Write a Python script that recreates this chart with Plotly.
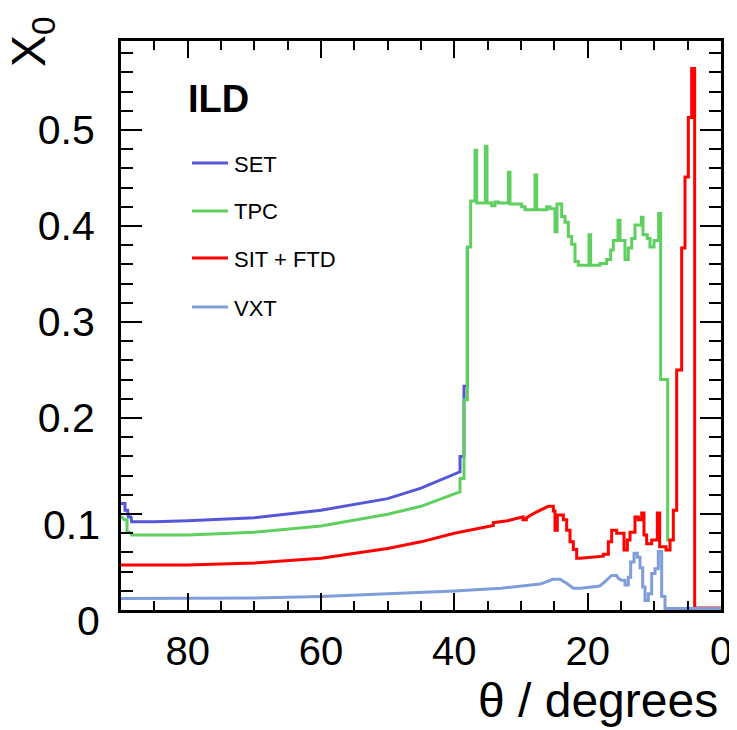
import plotly.graph_objects as go

# ---------------- data (theta in degrees, cumulative X0) ----------------
set_theta = [90, 89.4, 89.4, 89.0, 88.9, 88.5, 88.4, 85, 80, 70, 60, 50, 45, 40,
             39.15, 39.15, 38.55, 38.55, 38.05, 38.05]
set_x0 = [0.111, 0.111, 0.104, 0.104, 0.097, 0.097, 0.092, 0.092, 0.093, 0.096,
          0.104, 0.116, 0.127, 0.141, 0.144, 0.160, 0.160, 0.233, 0.233, 0.378]

tpc_theta = [90, 89.5, 89.1, 89.1, 88.5, 88.4, 85, 80, 70, 60, 50, 45, 40,
             39.15, 39.15, 38.55, 38.55, 38.05, 38.05, 37.55, 37.55,
             36.9, 36.9, 36.65, 36.65, 35.35, 35.35, 35.1, 35.1,
             34.4, 34.4, 33.9, 33.9, 33.4, 33.4, 31.9, 31.9, 31.65, 31.65,
             29.9, 29.9, 29.4, 29.4, 27.9, 27.9, 27.65, 27.65,
             26.15, 26.15, 25.65, 25.65, 24.9, 24.9, 24.6, 24.6,
             23.9, 23.9, 23.4, 23.4, 22.9, 22.9, 22.4, 22.4, 21.9, 21.9,
             21.4, 21.4, 19.8, 19.8, 19.55, 19.55, 18.15, 18.15, 17.15, 17.15,
             16.55, 16.55, 16.15, 16.15, 15.45, 15.45, 15.15, 15.15,
             14.4, 14.4, 13.9, 13.9, 13.4, 13.4, 12.9, 12.9, 11.95, 11.95,
             11.7, 11.7, 11.05, 11.05, 10.65, 10.65, 10.05, 10.05, 9.35, 9.35,
             9.05, 9.05, 8.0, 8.0]
tpc_x0 = [0.098, 0.094, 0.094, 0.082, 0.080, 0.078, 0.078, 0.078, 0.081, 0.0875,
          0.0997, 0.108, 0.121, 0.123, 0.137, 0.137, 0.219, 0.219, 0.378, 0.378, 0.426,
          0.426, 0.479, 0.479, 0.424, 0.424, 0.483, 0.483, 0.424,
          0.424, 0.421, 0.421, 0.425, 0.425, 0.424, 0.424, 0.456, 0.456, 0.423,
          0.423, 0.420, 0.420, 0.417, 0.417, 0.453, 0.453, 0.417,
          0.417, 0.420, 0.420, 0.418, 0.418, 0.394, 0.394, 0.423,
          0.423, 0.410, 0.410, 0.404, 0.404, 0.389, 0.389, 0.381, 0.381, 0.363,
          0.363, 0.359, 0.359, 0.391, 0.391, 0.359, 0.359, 0.361, 0.361, 0.365,
          0.365, 0.375, 0.375, 0.385, 0.385, 0.406, 0.406, 0.385,
          0.385, 0.365, 0.365, 0.377, 0.377, 0.387, 0.387, 0.401, 0.401, 0.409,
          0.409, 0.391, 0.391, 0.387, 0.387, 0.378, 0.378, 0.385, 0.385, 0.413,
          0.413, 0.240, 0.240, 0.071]

sit_theta = [90, 80, 70, 60, 50, 45, 40, 36, 34.15, 34.15, 32, 29.7, 29.7, 29.2, 29.2,
             28, 26.2, 25.9, 25.15, 25.15, 24.9, 24.9, 24.55, 24.55, 23.65, 23.65,
             23.15, 23.15, 22.65, 22.65, 22.15, 22.15, 21.65, 21.65, 21.15, 19.0,
             17.65, 17.65, 16.9, 16.9, 16.4, 16.4, 15.65, 15.65, 14.55, 14.55,
             14.05, 14.05, 13.65, 13.65, 12.9, 12.9, 12.4, 12.4, 11.9, 11.9,
             11.55, 11.55, 11.15, 11.15, 10.4, 10.4, 9.55, 9.55, 9.2, 9.2,
             8.25, 8.25, 7.65, 7.65, 7.15, 7.15, 6.65, 6.65, 5.9, 5.9, 5.4, 5.4,
             4.9, 4.9, 4.4, 4.4, 3.95, 3.95, 0]
sit_x0 = [0.047, 0.047, 0.049, 0.054, 0.064, 0.071, 0.080, 0.086, 0.088, 0.091,
          0.093, 0.097, 0.094, 0.094, 0.096,
          0.101, 0.107, 0.108, 0.108, 0.103, 0.103, 0.083, 0.083, 0.099, 0.099, 0.094,
          0.094, 0.083, 0.083, 0.071, 0.071, 0.063, 0.063, 0.054, 0.054, 0.055,
          0.056, 0.058, 0.058, 0.071, 0.071, 0.083, 0.083, 0.080, 0.080, 0.0625,
          0.0625, 0.073, 0.073, 0.081, 0.081, 0.097, 0.097, 0.094, 0.094, 0.101,
          0.101, 0.078, 0.078, 0.069, 0.069, 0.073, 0.073, 0.101, 0.101, 0.066,
          0.066, 0.0625, 0.0625, 0.073, 0.073, 0.104, 0.104, 0.250, 0.250, 0.377,
          0.377, 0.451, 0.451, 0.513, 0.513, 0.564, 0.564, 0.002, 0.002]

vxt_theta = [90, 80, 70, 60, 50, 40, 33, 30, 27.15, 25.9, 25.2, 24.15, 23.6, 23.0,
             22.6, 22.15, 21.0, 19.0, 18.2, 17.65, 16.9, 16.4, 15.65, 15.4, 14.9,
             14.4, 14.4, 13.9, 13.9, 13.55, 13.55, 13.05, 13.05, 12.55, 12.55,
             12.15, 12.15, 11.75, 11.75, 11.4, 11.4, 10.9, 10.9, 10.4, 10.4,
             9.9, 9.9, 9.4, 9.4, 8.9, 8.9, 8.4, 8.4, 0]
vxt_x0 = [0.012, 0.012, 0.0125, 0.014, 0.0167, 0.0198, 0.0226, 0.025, 0.027, 0.030,
          0.032, 0.032, 0.030, 0.027, 0.025, 0.0226, 0.0226, 0.024, 0.025, 0.028,
          0.033, 0.036, 0.036, 0.033, 0.031,
          0.031, 0.026, 0.026, 0.034, 0.034, 0.050, 0.050, 0.059, 0.059, 0.055,
          0.055, 0.044, 0.044, 0.024, 0.024, 0.010, 0.010, 0.017, 0.017, 0.038,
          0.038, 0.043, 0.043, 0.061, 0.061, 0.014, 0.014, 0.0015, 0.0015]

series_names = ["SET", "TPC", "SIT + FTD", "VXT"]
series_colors = ["#5656d8", "#5fcf5f", "#ff0000", "#7f9dd8"]

x_tickvals = [80, 60, 40, 20, 0]
y_tickvals = [0, 0.1, 0.2, 0.3, 0.4, 0.5]
y_ticktext = ["", "", "0.2", "0.3", "0.4", "0.5"]
y_low_vals = [0, 0.1]          # these two labels sit a little below their ticks
y_low_text = ["0", "0.1"]

# ---------------- figure ----------------
OFF = 8                      # page body margin of the html page
W, H = 737 - OFF, 730 - OFF
L, T = 121 - OFF, 41 - OFF
pw, ph = 600, 569
R, B = W - L - pw, H - T - ph

fig = go.Figure()
data = [(set_theta, set_x0), (tpc_theta, tpc_x0), (sit_theta, sit_x0), (vxt_theta, vxt_x0)]
for (th, v), name, col in zip(data, series_names, series_colors):
    fig.add_trace(go.Scatter(x=th, y=v, mode="lines", name=name,
                             line=dict(color=col, width=3), showlegend=False))

FONT = "Liberation Sans, Arial, sans-serif"
fig.update_layout(
    width=W, height=H, margin=dict(l=L, r=R, t=T, b=B, autoexpand=False),
    paper_bgcolor="white", plot_bgcolor="white",
    font=dict(family=FONT, color="black"),
)
fig.update_xaxes(range=[90, 0], showgrid=False, zeroline=False,
                 showline=True, linecolor="black", linewidth=3, mirror="ticks",
                 ticks="inside", ticklen=17, tickwidth=2, tickcolor="black",
                 tickvals=x_tickvals, tickfont=dict(size=40, family=FONT),
                 ticklabelstandoff=4,
                 minor=dict(dtick=5, ticks="inside", ticklen=9, tickwidth=2,
                            tickcolor="black", showgrid=False))
fig.update_yaxes(range=[0, 0.5927], showgrid=False, zeroline=False,
                 showline=True, linecolor="black", linewidth=3, mirror="ticks",
                 ticks="inside", ticklen=21, tickwidth=2, tickcolor="black",
                 tickvals=y_tickvals, ticktext=y_ticktext,
                 tickfont=dict(size=41, family=FONT), ticklabelstandoff=15,
                 minor=dict(dtick=0.02, ticks="inside", ticklen=12, tickwidth=2,
                            tickcolor="black", showgrid=False))


def px_to_paper_x(px):
    return (px - OFF - L) / pw


def py_to_paper_y(py):
    return 1 - (py - OFF - T) / ph


for v, t in zip(y_low_vals, y_low_text):
    fig.add_annotation(text=t, xref="paper", yref="y", x=px_to_paper_x(102), y=v,
                       yshift=-11, xanchor="right", yanchor="middle",
                       showarrow=False, font=dict(size=41, family=FONT, color="black"))

# axis titles
fig.add_annotation(text="θ / degrees", xref="paper", yref="paper",
                   x=px_to_paper_x(720), y=py_to_paper_y(700), xanchor="right",
                   yanchor="middle", showarrow=False,
                   font=dict(size=48, family=FONT, color="black"))
fig.add_annotation(text="X<sub>0</sub>", xref="paper", yref="paper",
                   x=px_to_paper_x(32), y=py_to_paper_y(42), xanchor="center",
                   yanchor="middle", showarrow=False, textangle=-90,
                   font=dict(size=48, family=FONT, color="black"))

# ILD label
fig.add_annotation(text="<b>ILD</b>", xref="paper", yref="paper",
                   x=px_to_paper_x(186), y=py_to_paper_y(99), xanchor="left",
                   yanchor="middle", showarrow=False,
                   font=dict(size=38, family=FONT, color="black"))

# legend (drawn manually)
leg_y = [163, 211, 258, 307]
for name, col, yy in zip(series_names, series_colors, leg_y):
    fig.add_shape(type="line", xref="paper", yref="paper",
                  x0=px_to_paper_x(192), x1=px_to_paper_x(228),
                  y0=py_to_paper_y(yy), y1=py_to_paper_y(yy),
                  line=dict(color=col, width=3))
    fig.add_annotation(text=name, xref="paper", yref="paper",
                       x=px_to_paper_x(232), y=py_to_paper_y(yy + 1), xanchor="left",
                       yanchor="middle", showarrow=False,
                       font=dict(size=22, family=FONT, color="black"))

fig.write_html("out.html")
